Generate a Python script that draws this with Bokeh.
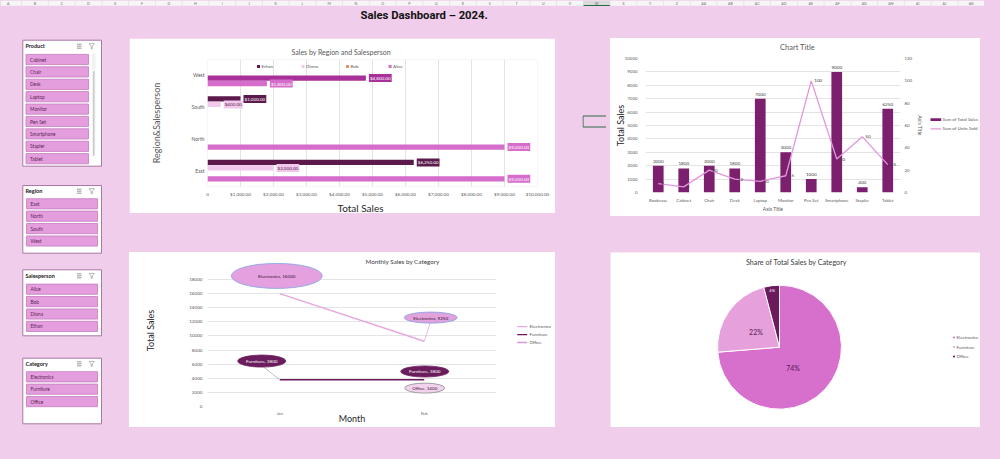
import math
import numpy as np
from bokeh.plotting import figure
from bokeh.models import (Range1d, FactorRange, FixedTicker, ColumnDataSource, LinearAxis, Spacer,
                          GlobalInlineStyleSheet, Title)
from bokeh.layouts import column, row
from bokeh.transform import dodge
from bokeh.core.properties import value
from bokeh.embed import file_html
from bokeh.resources import INLINE

BG = "#f0cdeb"
FONT = "Lato"
GRAY = "#595959"

# ---------------- data ----------------
dashboard_title = "Sales Dashboard \u2013 2024."
sheet_columns = ["A", "B", "C", "D", "E", "F", "G", "H", "I", "J", "K", "L", "M", "N", "O",
                 "P", "Q", "R", "S", "T", "U", "V", "W", "X", "Y", "Z", "AA", "AB", "AC",
                 "AD", "AE", "AF", "AG", "AH", "AI", "AJ", "AK"]

regions = ["East", "North", "South", "West"]
salespeople = ["Ethan", "Diona", "Bob", "Alice"]
sales_ethan = [6250, 0, 1000, 0]
sales_diona = [2000, 0, 400, 0]
sales_bob = [0, 0, 0, 4800]
sales_alice = [9000, 9000, 0, 1800]
bar_x_ticks = [0, 1000, 2000, 3000, 4000, 5000, 6000, 7000, 8000, 9000, 10000]

products = ["Bookcase", "Cabinet", "Chair", "Desk", "Laptop", "Monitor",
            "Pen Set", "Smartphone", "Stapler", "Tablet"]
product_sales = [2000, 1800, 2000, 1800, 7000, 3000, 1000, 9000, 400, 6250]
product_units = [8, 5, 20, 12, 10, 15, 100, 30, 50, 25]
combo_left_ticks = [0, 1000, 2000, 3000, 4000, 5000, 6000, 7000, 8000, 9000, 10000]
combo_right_ticks = [0, 20, 40, 60, 80, 100, 120]
combo_series = ["Sum of Total Sales", "Sum of Units Sold"]

months = ["Jan", "Feb"]
categories = ["Electronics", "Furniture", "Office"]
electronics_monthly = [16000, 9250]
furniture_monthly = [3800, 3800]
office_monthly = [float("nan"), 1400]
line_y_ticks = [0, 2000, 4000, 6000, 8000, 10000, 12000, 14000, 16000, 18000]

slicer_products = ["Cabinet", "Chair", "Desk", "Laptop", "Monitor", "Pen Set",
                   "Smartphone", "Stapler", "Tablet"]
slicer_regions = ["East", "North", "South", "West"]
slicer_salespeople = ["Alice", "Bob", "Diona", "Ethan"]
slicer_categories = ["Electronics", "Furniture", "Office"]


def base_fig(w, h, **kw):
    p = figure(width=w, height=h, output_backend="svg", toolbar_location=None, **kw)
    p.outline_line_color = None
    return p


def blank_fig(w, h, xr, yr, bg):
    p = base_fig(w, h, x_range=Range1d(*xr), y_range=Range1d(*yr),
                 x_axis_location=None, y_axis_location=None, min_border=0,
                 background_fill_color=bg, border_fill_color=bg)
    p.grid.visible = False
    return p


def style_axis(ax, size="5px", color=GRAY):
    ax.axis_line_color = None
    ax.major_tick_line_color = None
    ax.minor_tick_line_color = None
    ax.major_tick_out = 0
    ax.major_tick_in = 0
    ax.minor_tick_out = 0
    ax.minor_tick_in = 0
    ax.major_label_text_font = FONT
    ax.major_label_text_font_size = size
    ax.major_label_text_color = color
    ax.axis_label_text_font = FONT
    ax.axis_label_text_font_style = "normal"


def legend_text(fig, xs, ys, labels):
    fig.text(x=xs, y=ys, text=labels, text_font=value(FONT), text_font_size="4.5px",
             text_color=GRAY, text_baseline="middle", text_align="left")


def caption(fig, x, y, txt, size, color):
    fig.text(x=[x], y=[y], text=[txt], text_font=value(FONT), text_font_size=size,
             text_color=color, text_align="center", text_baseline="middle")


# ---------------- title strip (with sheet column header) ----------------
title_fig = blank_fig(984, 36, (0, 984), (36, 0), BG)
col_w = 26.75
col_c = [7.7 + col_w * k for k in range(len(sheet_columns))]
title_fig.quad(left=[0], right=[984], top=[0], bottom=[5.2], fill_color="#f6f6f6", line_color=None)
sel = sheet_columns.index("W")
title_fig.quad(left=[col_c[sel] - col_w / 2], right=[col_c[sel] + col_w / 2], top=[0], bottom=[5.2],
               fill_color="#d9d9d9", line_color=None)
title_fig.segment(x0=[col_c[sel] - col_w / 2], y0=[5.0], x1=[col_c[sel] + col_w / 2], y1=[5.0],
                  line_color="#1e7145", line_width=1.2)
title_fig.segment(x0=[c + col_w / 2 for c in col_c], y0=[0] * len(col_c),
                  x1=[c + col_w / 2 for c in col_c], y1=[5.2] * len(col_c),
                  line_color="#dadada", line_width=0.6)
title_fig.text(x=col_c, y=[2.7] * len(col_c), text=sheet_columns, text_font=value(FONT),
               text_font_size="3.6px", text_color="#6f6f6f", text_align="center",
               text_baseline="middle")
title_fig.text(x=[360], y=[15.3], text=[dashboard_title],
               text_font=value("'Liberation Sans Narrow', 'Roboto', sans-serif"),
               text_font_style="bold", text_font_size="11.3px", text_color="#111111",
               text_baseline="middle", text_align="left")

# ---------------- slicers ----------------
sl = blank_fig(122, 407, (0, 122), (443, 36), BG)
slicers = [
    ("Product", slicer_products, 39.7, 165.7, 45.7, 59.0, 88.0, True),
    ("Region", slicer_regions, 185.0, 252.7, 190.7, 203.3, 97.0, False),
    ("Salesperson", slicer_salespeople, 269.3, 335.3, 275.3, 288.7, 97.0, False),
    ("Category", slicer_categories, 357.7, 423.3, 363.3, 376.3, 97.0, False),
]
for name, items, top, bottom, hy, first_y, right_edge, scroll in slicers:
    sl.quad(left=[22.3], right=[101], top=[top], bottom=[bottom],
            fill_color="white", line_color="#a978a4", line_width=1)
    sl.text(x=[25], y=[hy], text=[name], text_font=value(FONT), text_font_style="bold",
            text_font_size="5.5px", text_color="#1a1a1a", text_baseline="middle")
    sl.segment(x0=[76.5, 76.5, 76.5], y0=[hy - 2, hy, hy + 2], x1=[81, 81, 81],
               y1=[hy - 2, hy, hy + 2], line_color="#7f7f7f", line_width=0.8)
    sl.patch(x=[88.5, 94, 91.8, 91.8, 90.7, 90.7], y=[hy - 2.5, hy - 2.5, hy, hy + 2.5, hy + 2.5, hy],
             fill_color=None, line_color="#9a9a9a", line_width=0.7)
    ys = [first_y + 12.4 * i for i in range(len(items))]
    left = 25.5 if scroll else 26
    sl.quad(left=[left] * len(items), right=[right_edge] * len(items),
            top=[y - 5.1 for y in ys], bottom=[y + 5.1 for y in ys],
            fill_color="#e49ede", line_color="#c57bbf", line_width=0.8)
    sl.text(x=[left + 4] * len(items), y=ys, text=items, text_font=value(FONT),
            text_font_size="4.8px", text_color="#5a1f52", text_baseline="middle")
    if scroll:
        sl.quad(left=[91.5], right=[95], top=[53], bottom=[156], fill_color="#f2f2f2", line_color=None)
        sl.quad(left=[92.6], right=[93.9], top=[71], bottom=[155], fill_color="#c6c6c6", line_color=None)

# ---------------- bar chart: Sales by Region and Salesperson ----------------
bar = base_fig(426, 175, y_range=FactorRange(*regions, range_padding=0), x_range=Range1d(0, 10000),
               min_border_left=78, min_border_right=18, min_border_top=21, min_border_bottom=26,
               background_fill_color="white", border_fill_color="white")
bar.title.text = "Sales by Region and Salesperson"
bar.title.align = "left"
bar.title.offset = 84
bar.title.standoff = 4
bar.title.vertical_align = "top"
bar.title.text_font = FONT
bar.title.text_font_size = "7px"
bar.title.text_font_style = "normal"
bar.title.text_color = GRAY
bar.add_layout(Title(text="Total Sales", align="left", offset=130, standoff=0, text_font=FONT,
                     text_font_size="10px", text_font_style="normal", text_color="#262626"),
               "below")

person_sales = [sales_ethan, sales_diona, sales_bob, sales_alice]
bar_offsets = [0.258, 0.086, -0.086, -0.258]
bar_colors = ["#5c1a4c", "#f2c9ec", "#a8309a", "#d66ccb"]
legend_colors = ["#5c1a4c", "#f2c9ec", "#e8956b", "#d66ccb"]
label_fg = ["white", "#5a1a4c", "white", "white"]

for i, name in enumerate(salespeople):
    sub = [(r, v) for r, v in zip(regions, person_sales[i]) if v]
    src = ColumnDataSource(dict(region=[r for r, _ in sub], val=[v for _, v in sub],
                                lab=["${:,.2f}".format(v) for _, v in sub]))
    ydodge = dodge("region", bar_offsets[i], range=bar.y_range)
    bar.hbar(y=ydodge, left=0, right="val", height=0.165, fill_color=bar_colors[i],
             line_color=None, source=src)
    bar.text(x="val", y=ydodge, text="lab", source=src, x_offset=3,
             text_font=value(FONT), text_font_size="4.6px", text_color=label_fg[i],
             text_baseline="middle", text_align="left",
             background_fill_color=bar_colors[i], padding=1)

leg_px = [257.7, 302.3, 346.7, 389.3]
leg_src = ColumnDataSource(dict(x=[(p - 206.7) / 330.0 * 10000 for p in leg_px],
                                cat=[regions[-1]] * 4, name=salespeople, col=legend_colors))
leg_y = dodge("cat", 0.28, range=bar.y_range)
bar.scatter(x="x", y=leg_y, marker="square", size=3, fill_color="col", line_color=None, source=leg_src)
bar.text(x="x", y=leg_y, text="name", source=leg_src, x_offset=3, text_font=value(FONT),
         text_font_size="4.6px", text_color=GRAY, text_baseline="middle", text_align="left")

bar.xaxis.ticker = FixedTicker(ticks=bar_x_ticks)
bar.xaxis.major_label_overrides = {t: ("0" if t == 0 else "${:,.2f}".format(t)) for t in bar_x_ticks}
style_axis(bar.xaxis[0], "4.6px")
style_axis(bar.yaxis[0], "5px")
bar.xaxis.major_label_standoff = 4
bar.yaxis.major_label_standoff = 3
bar.yaxis.axis_label = "Region&Salesperson"
bar.yaxis.axis_label_text_font_size = "9px"
bar.yaxis.axis_label_text_color = GRAY
bar.yaxis.axis_label_standoff = 27
bar.xgrid.grid_line_color = "#e4e4e4"
bar.ygrid.grid_line_color = None

# ---------------- line chart: Monthly Sales by Category ----------------
lf = base_fig(377, 175, x_range=Range1d(-0.5, 1.5), y_range=Range1d(0, 21550),
              min_border_left=78, min_border_right=10, min_border_top=2, min_border_bottom=21,
              background_fill_color="white", border_fill_color="white")
px_x = 144.5          # pixels per month unit
px_y = 7.04 / 1000.0  # pixels per sales unit

line_colors = ["#e6a6e0", "#6a1a5a", "#d998d4"]
series = [electronics_monthly, furniture_monthly, office_monthly]
mx = list(range(len(months)))
for s, c in zip(series, line_colors):
    lf.line(x=mx, y=s, line_color=c, line_width=1.4)

lf.text(x=[0.85], y=[(405.7 - 260.7) / px_y], text=["Monthly Sales by Category"],
        text_font=value(FONT), text_font_size="6.3px", text_color="#404040",
        text_align="center", text_baseline="middle")

callouts = [
    (0, 0, -3, -17.7, 91, 25, "#e5a0df", "#7fa6e6", "#3a1535", False),
    (0, 1, 6.5, -23.6, 53, 11, "#e2a2dc", "#7f9fe6", "#3a1535", True),
    (1, 0, -18, -18.6, 48, 12, "#6b1c5c", "#6b1c5c", "white", True),
    (1, 1, 0.5, -8.2, 48, 11, "#6b1c5c", "#6b1c5c", "white", False),
    (2, 1, 0.5, -8.5, 40, 10, "#f2d3ee", "#8c8c8c", "#3a1535", False),
]
for si, mi, dx, dy, w, h, fc, lc, tc, leader in callouts:
    vx = mx[mi]
    vy = series[si][mi]
    cx = vx + dx / px_x
    cy = vy - dy / px_y
    if leader:
        lf.segment(x0=[cx + (dx * -0.1) / px_x], y0=[cy - (h / 2) / px_y], x1=[vx], y1=[vy],
                   line_color="#b0b0b0" if si == 1 else line_colors[si], line_width=0.8)
    lf.ellipse(x=[cx], y=[cy], width=[w], height=[h], width_units="screen", height_units="screen",
               fill_color=fc, line_color=lc, line_width=0.8)
    lf.text(x=[cx], y=[cy], text=["{}, {:g}".format(categories[si], vy)], text_font=value(FONT),
            text_font_size="4.6px", text_color=tc, text_align="center", text_baseline="middle")

lf.xaxis.ticker = FixedTicker(ticks=mx)
lf.xaxis.major_label_overrides = {i: m for i, m in enumerate(months)}
lf.yaxis.ticker = FixedTicker(ticks=line_y_ticks)
style_axis(lf.xaxis[0], "4.2px")
style_axis(lf.yaxis[0], "4.6px")
lf.xaxis.major_label_standoff = 4
lf.yaxis.major_label_standoff = 5
lf.xaxis.axis_label = "Month"
lf.xaxis.axis_label_text_font_size = "9px"
lf.xaxis.axis_label_text_color = "#262626"
lf.xaxis.axis_label_standoff = -6
lf.yaxis.axis_label = "Total Sales"
lf.yaxis.axis_label_text_font_size = "9px"
lf.yaxis.axis_label_text_color = "#262626"
lf.yaxis.axis_label_standoff = 30
lf.xgrid.grid_line_color = None
lf.ygrid.grid_line_color = "#e4e4e4"

lleg_fig = blank_fig(49, 175, (506, 555), (427, 252), "white")
lleg_y = [335, 344.3, 353.3]
lleg_fig.segment(x0=[516.7] * 3, y0=lleg_y, x1=[526.7] * 3, y1=lleg_y, line_color=line_colors,
                 line_width=1.4)
legend_text(lleg_fig, [529] * 3, lleg_y, categories)

# ---------------- combo chart ----------------
cb_title = blank_fig(370, 16, (610, 980), (54, 38), "white")
caption(cb_title, 797, 47, "Chart Title", "7.5px", GRAY)

cb = base_fig(316, 162, x_range=FactorRange(*products, range_padding=0), y_range=Range1d(0, 10000),
              min_border_left=35, min_border_right=26, min_border_top=4, min_border_bottom=24,
              background_fill_color="white", border_fill_color="white")
cb.extra_y_ranges = {"units": Range1d(0, 120)}

bar_color = "#7b1f6e"
unit_color = "#e396dc"
cb.vbar(x=products, top=product_sales, width=0.42, fill_color=bar_color, line_color=None)
cb.text(x=products, y=product_sales, text=[str(v) for v in product_sales], y_offset=-3,
        text_font=value(FONT), text_font_size="4.6px", text_color="#404040",
        text_align="center", text_baseline="bottom")
cb.line(x=products, y=product_units, y_range_name="units", line_color=unit_color, line_width=1.3)
cb.text(x=products, y=product_units, text=[str(v) for v in product_units], y_range_name="units",
        x_offset=3, text_font=value(FONT), text_font_size="4.6px", text_color="#404040",
        text_align="left", text_baseline="middle")

raxis = LinearAxis(y_range_name="units", ticker=FixedTicker(ticks=combo_right_ticks),
                   axis_label="Axis Title")
cb.add_layout(raxis, "right")
cb.yaxis[0].ticker = FixedTicker(ticks=combo_left_ticks)
style_axis(cb.xaxis[0], "4.4px")
style_axis(cb.yaxis[0], "4.4px")
style_axis(raxis, "4.4px")
cb.xaxis.major_label_standoff = 5
cb.yaxis[0].major_label_standoff = 8
raxis.major_label_standoff = 4
raxis.axis_label_text_font_size = "5px"
raxis.axis_label_text_color = GRAY
raxis.axis_label_standoff = 2
cb.yaxis[0].axis_label = "Total Sales"
cb.yaxis[0].axis_label_text_font_size = "9px"
cb.yaxis[0].axis_label_text_color = "#262626"
cb.yaxis[0].axis_label_standoff = -4
cb.xaxis.axis_label = "Axis Title"
cb.xaxis.axis_label_text_font_size = "5px"
cb.xaxis.axis_label_text_color = GRAY
cb.xaxis.axis_label_standoff = 0
cb.xgrid.grid_line_color = None
cb.ygrid.grid_line_color = "#e4e4e4"

cleg_fig = blank_fig(54, 162, (926, 980), (216, 54), "white")
cleg_fig.quad(left=[930], right=[940.7], top=[126.3], bottom=[129.7], fill_color=bar_color,
              line_color=None)
cleg_fig.segment(x0=[930], y0=[139], x1=[940.7], y1=[139], line_color=unit_color, line_width=1.3)
legend_text(cleg_fig, [942, 942], [128, 139], combo_series)

# ---------------- pie chart ----------------
pie = blank_fig(370, 175, (610, 980), (0, 175), "white")
cat_totals = [float(np.nansum(electronics_monthly)), float(np.nansum(furniture_monthly)),
              float(np.nansum(office_monthly))]
grand = sum(cat_totals)
fracs = [t / grand for t in cat_totals]
cum = np.concatenate([[0.0], np.cumsum(fracs)])
pie_colors = ["#d670cc", "#e6a0dc", "#6b1a5e"]
cx, cy, R = 779.0, 80.3, 62.0
starts = [math.pi / 2 - 2 * math.pi * cum[i] for i in range(3)]
ends = [math.pi / 2 - 2 * math.pi * cum[i + 1] for i in range(3)]
pie.wedge(x=[cx] * 3, y=[cy] * 3, radius=R, radius_units="screen", start_angle=starts,
          end_angle=ends, direction="clock", fill_color=pie_colors, line_color="white", line_width=1)
label_r = [0.4, 0.45, 0.93]
label_turn = [0.25, -0.05, 0.0]
label_col = ["#5a1a50", "#5a1a50", "white"]
label_size = ["7px", "7px", "4px"]
for i in range(3):
    mid = (starts[i] + ends[i]) / 2 - label_turn[i]
    pie.text(x=[cx + label_r[i] * R * math.cos(mid)], y=[cy + label_r[i] * R * math.sin(mid)],
             text=["{}%".format(round(100 * fracs[i]))], text_font=value(FONT),
             text_font_size=label_size[i], text_color=label_col[i], text_align="center",
             text_baseline="middle")
caption(pie, 796, 165, "Share of Total Sales by Category", "7.2px", "#404040")
pleg_y = [427 - 337, 427 - 346.5, 427 - 356]
pie.scatter(x=[953.5] * 3, y=pleg_y, marker="circle", size=2.2, fill_color=pie_colors, line_color=None)
legend_text(pie, [956] * 3, pleg_y, categories)

# ---------------- selected cell ----------------
conn = blank_fig(24, 407, (582, 606), (443, 36), BG)
conn.quad(left=[582.5], right=[607], top=[115.5], bottom=[126.5], fill_color=None,
          line_color="#2f6b45", line_width=1)

WHITE = {"background-color": "white"}
line_panel = row(lf, lleg_fig, styles=WHITE)
combo_panel = column(cb_title, row(cb, cleg_fig, styles=WHITE), styles=WHITE)

mid = column(Spacer(width=460, height=2),
             row(Spacer(width=7, height=175), bar, Spacer(width=27, height=175)),
             Spacer(width=460, height=39),
             row(Spacer(width=7, height=175), line_panel, Spacer(width=27, height=175)),
             Spacer(width=460, height=16))
right = column(Spacer(width=378, height=2),
               row(Spacer(width=4, height=178), combo_panel, Spacer(width=4, height=178)),
               Spacer(width=378, height=36),
               row(Spacer(width=4, height=175), pie, Spacer(width=4, height=175)),
               Spacer(width=378, height=16))
body = row(sl, mid, conn, right)
root = column(title_fig, body, styles={"background-color": BG},
              stylesheets=[GlobalInlineStyleSheet(css="html, body { background: #f0cdeb; }")])

open("out.html", "w").write(file_html(root, INLINE))
